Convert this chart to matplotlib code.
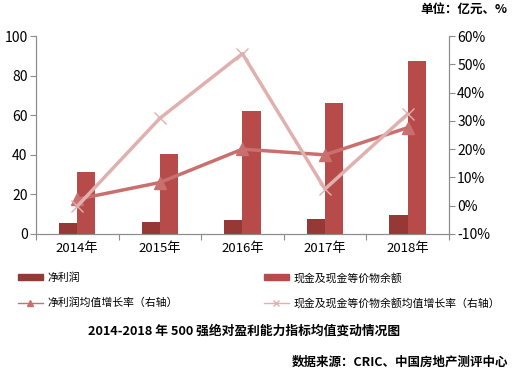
import matplotlib.pyplot as plt
import numpy as np
from matplotlib.patches import Patch
from matplotlib.lines import Line2D

plt.rcParams['font.family'] = ['Noto Sans CJK SC', 'DejaVu Sans']

years = ['2014年', '2015年', '2016年', '2017年', '2018年']
net_profit = [5.7, 6.2, 6.9, 7.7, 9.7]
cash = [31.4, 40.4, 62.2, 66.1, 87.2]
profit_growth = [2.3, 8.2, 20.0, 18.0, 27.6]
cash_growth = [-0.2, 30.9, 53.8, 5.9, 32.4]

c_profit = '#953836'
c_cash = '#b64b49'
c_pg = '#c9706e'
c_cg = '#e0b0af'
grey = '#8c8c8c'

fig = plt.figure(figsize=(5.13, 3.72), dpi=100)
ax = fig.add_axes([0.070, 0.371, 0.805, 0.532])
ax2 = ax.twinx()

x = np.arange(len(years))
w = 0.22
ax.bar(x - w/2, net_profit, w, color=c_profit, zorder=2)
ax.bar(x + w/2, cash, w, color=c_cash, zorder=2)

ax.set_xlim(-0.5, len(years) - 0.5)
ax.set_ylim(0, 100)
ax.set_yticks(range(0, 101, 20))
ax.set_xticks(np.arange(-0.5, len(years), 1.0))
ax.set_xticklabels([])
ax.set_xticks(x, minor=True)
ax.set_xticklabels(years, minor=True)
ax.tick_params(axis='x', which='minor', length=0, pad=6, labelsize=9.5)
ax.tick_params(axis='x', which='major', length=4, color=grey)
ax.tick_params(axis='y', length=4, color=grey, labelsize=10, pad=2)

ax2.plot(x, profit_growth, color=c_pg, lw=2.5, marker='^', ms=8, zorder=3)
ax2.plot(x, cash_growth, color=c_cg, lw=2.5, marker='x', ms=8, mew=1, zorder=3)
ax2.set_ylim(-10, 60)
ax2.set_yticks(range(-10, 61, 10))
ax2.set_yticklabels([f'{v}%' for v in range(-10, 61, 10)])
ax2.tick_params(axis='y', length=4, color=grey, labelsize=10, pad=2)

# lines above the bars
ax.set_zorder(1)
ax2.set_zorder(2)
ax2.patch.set_visible(False)

for a in (ax, ax2):
    a.spines['top'].set_visible(False)
    for s in ('left', 'right', 'bottom'):
        a.spines[s].set_color(grey)

handles = [
    Patch(color=c_profit),
    Line2D([], [], color=c_pg, lw=1, marker='^', ms=5),
    Patch(color=c_cash),
    Line2D([], [], color=c_cg, lw=1, marker='x', ms=5),
]
labels = ['净利润', '净利润均值增长率（右轴）', '现金及现金等价物余额', '现金及现金等价物余额均值增长率（右轴）']
fig.legend(handles, labels, ncol=2, loc='upper left', bbox_to_anchor=(0.035, 0.268),
           frameon=False, fontsize=7.8, handlelength=2.3, handleheight=0.45,
           columnspacing=7.9, labelspacing=1.3, handletextpad=0.45,
           borderaxespad=0, borderpad=0)

fig.text(0.476, 0.11, '2014-2018 年 500 强绝对盈利能力指标均值变动情况图',
         ha='center', va='center', fontsize=9.2, fontweight='bold')
fig.text(0.99, 0.027, '数据来源：CRIC、中国房地产测评中心',
         ha='right', va='center', fontsize=9, fontweight='bold')
fig.text(0.99, 0.975, '单位：亿元、%', ha='right', va='center', fontsize=9, fontweight='bold')

fig.savefig('out.png', dpi=100)
